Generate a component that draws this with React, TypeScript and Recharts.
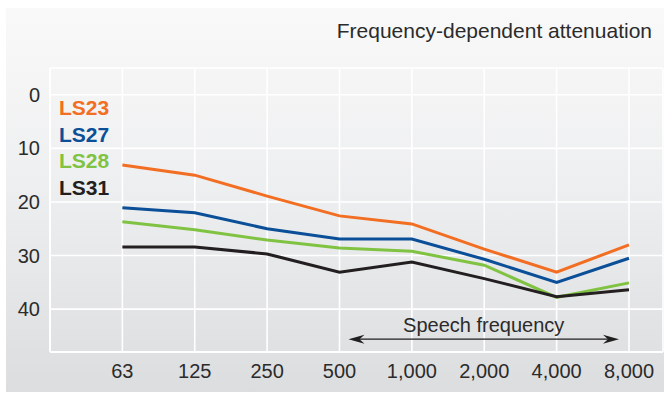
import React from "react";
import {
  CartesianGrid,
  Legend,
  Line,
  LineChart,
  ReferenceLine,
  XAxis,
  YAxis
} from "recharts";

const frequencies = ["63", "125", "250", "500", "1,000", "2,000", "4,000", "8,000"];
const ls23 = [13.1, 15.0, 18.9, 22.6, 24.1, 28.8, 33.1, 28.0];
const ls27 = [21.1, 22.0, 25.0, 26.9, 26.9, 30.7, 35.0, 30.5];
const ls28 = [23.7, 25.2, 27.1, 28.6, 29.2, 31.8, 37.8, 35.1];
const ls31 = [28.4, 28.4, 29.7, 33.1, 31.2, 34.3, 37.7, 36.4];
const yTicks = [0, 10, 20, 30, 40];

const series = [
  { key: "ls23", name: "LS23", color: "#f26e22" },
  { key: "ls27", name: "LS27", color: "#0b4f98" },
  { key: "ls28", name: "LS28", color: "#80c342" },
  { key: "ls31", name: "LS31", color: "#231f20" }
];

const data = frequencies.map((label, i) => ({
  idx: i + 1,
  label,
  ls23: ls23[i],
  ls27: ls27[i],
  ls28: ls28[i],
  ls31: ls31[i]
}));

const font = "'Liberation Sans', Arial, Helvetica, sans-serif";
const tickStyle = { fontSize: 20, fill: "#2b2b2b", fontFamily: font };

function SpeechArrow(props: any) {
  const { x1, y1, x2 } = props;
  const left = x1 + 9;
  const right = x2 - 10;
  const y = y1;
  return (
    <g>
      <line x1={left + 6} y1={y} x2={right - 6} y2={y} stroke="#1f1f1f" strokeWidth={1.3} />
      <path d={`M${left},${y} L${left + 16},${y - 4.5} L${left + 11},${y} L${left + 16},${y + 4.5} Z`} fill="#1f1f1f" />
      <path d={`M${right},${y} L${right - 16},${y - 4.5} L${right - 11},${y} L${right - 16},${y + 4.5} Z`} fill="#1f1f1f" />
      <text
        x={(left + right) / 2}
        y={y - 7}
        textAnchor="middle"
        fontSize={20}
        fill="#2b2b2b"
        fontFamily={font}
      >
        Speech frequency
      </text>
    </g>
  );
}

function SeriesLegend({ payload }: any) {
  return (
    <div style={{ fontFamily: font, fontWeight: 700, fontSize: 21 }}>
      {(payload || []).map((entry: any) => (
        <div key={entry.value} style={{ color: entry.color, height: 26.7, lineHeight: "26.7px" }}>
          {entry.value}
        </div>
      ))}
    </div>
  );
}

export default function App() {
  return (
    <div style={{ position: "absolute", left: 0, top: 0, width: 666, height: 394, background: "#fff" }}>
      <div
        style={{
          position: "absolute",
          left: 6,
          top: 8,
          width: 658,
          height: 384,
          background: "linear-gradient(180deg, #f9f9f9 0%, #eeeff0 45%, #dcdddf 100%)"
        }}
      />
      <div
        style={{
          position: "absolute",
          right: 14,
          top: 19,
          fontFamily: font,
          fontSize: 21,
          color: "#2b2b2b",
          whiteSpace: "nowrap"
        }}
      >
        Frequency-dependent attenuation
      </div>
      <div style={{ position: "absolute", left: 0, top: 0 }}>
        <LineChart width={666} height={394} data={data} margin={{ top: 68, right: 3, bottom: 0, left: 0 }}>
          <CartesianGrid stroke="#ffffff" strokeWidth={1.6} />
          <XAxis
            type="number"
            dataKey="idx"
            domain={[0, 8.47]}
            ticks={[1, 2, 3, 4, 5, 6, 7, 8]}
            tickFormatter={(v) => frequencies[Number(v) - 1] ?? ""}
            height={42}
            tickLine={false}
            axisLine={{ stroke: "#ffffff", strokeWidth: 2 }}
            tickMargin={6}
            tick={tickStyle}
            allowDataOverflow
          />
          <YAxis
            type="number"
            domain={[-5, 48]}
            ticks={yTicks}
            reversed
            width={50}
            tickLine={false}
            axisLine={{ stroke: "#ffffff", strokeWidth: 2 }}
            tickMargin={4}
            tick={tickStyle}
            allowDataOverflow
          />
          <Legend
            layout="vertical"
            align="center"
            verticalAlign="middle"
            wrapperStyle={{ left: 59, top: 95, width: 80, height: 110 }}
            content={<SeriesLegend />}
          />
          <ReferenceLine
            segment={[
              { x: 4, y: 45.6 },
              { x: 8, y: 45.6 }
            ]}
            shape={<SpeechArrow />}
            ifOverflow="visible"
          />
          {series.map((s) => (
            <Line
              key={s.key}
              type="linear"
              dataKey={s.key}
              name={s.name}
              stroke={s.color}
              strokeWidth={3}
              dot={false}
              activeDot={false}
              isAnimationActive={false}
            />
          ))}
        </LineChart>
      </div>
    </div>
  );
}
